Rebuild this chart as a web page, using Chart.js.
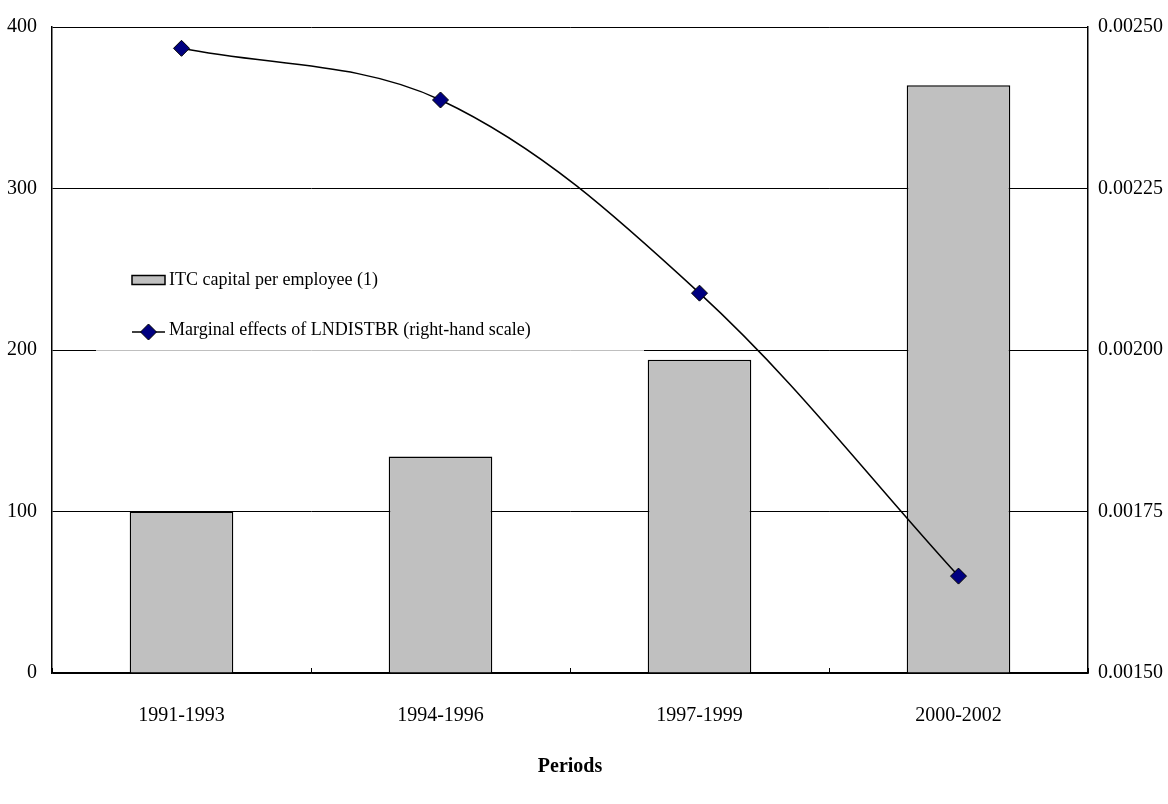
<!DOCTYPE html>
<html>
<head>
<meta charset="utf-8">
<script src="https://cdn.jsdelivr.net/npm/chart.js@4/dist/chart.umd.min.js"></script>
<style>
  html, body { margin: 0; padding: 0; background: #fff; }
  #wrap { width: 1168px; height: 804px; position: relative; }
</style>
</head>
<body>
<div id="wrap"><canvas id="c" width="1168" height="804"></canvas></div>
<script>
// Periods on the horizontal axis
const periods = ['1991-1993', '1994-1996', '1997-1999', '2000-2002'];
// ICT capital per employee, index (left scale)
const itcCapital = [100, 134, 194, 364];
// Marginal effects of LNDISTBR (right scale)
const marginalEffects = [0.002467, 0.002387, 0.002088, 0.00165];

const barLabel = 'ITC capital per employee (1)';
const lineLabel = 'Marginal effects of LNDISTBR (right-hand scale)';

const FONT = '"Liberation Serif", "Times New Roman", serif';

// Small inward tick marks between categories on the x axis
const categoryTicks = {
  id: 'categoryTicks',
  afterDraw(chart) {
    const { ctx, scales: { x }, chartArea } = chart;
    ctx.save();
    ctx.strokeStyle = '#000';
    ctx.lineWidth = 1;
    for (let i = 0; i <= periods.length; i++) {
      const px = Math.round(x.getPixelForValue(i - 0.5)) + 0.5;
      ctx.beginPath();
      ctx.moveTo(px, chartArea.bottom);
      ctx.lineTo(px, chartArea.bottom - 5);
      ctx.stroke();
    }
    ctx.restore();
  }
};

// Legend drawn inside the plot area
const innerLegend = {
  id: 'innerLegend',
  beforeDatasetsDraw(chart) {
    const { ctx } = chart;
    ctx.save();
    ctx.fillStyle = 'rgba(255,255,255,0.75)';
    ctx.fillRect(96, 256, 548, 96);
    ctx.restore();
  },
  afterDraw(chart) {
    const { ctx } = chart;
    const bar = chart.data.datasets[0];
    const line = chart.data.datasets[1];
    ctx.save();
    // bar swatch
    ctx.fillStyle = bar.backgroundColor;
    ctx.strokeStyle = '#000';
    ctx.lineWidth = 1.5;
    ctx.fillRect(132, 275.5, 33, 9);
    ctx.strokeRect(132, 275.5, 33, 9);
    // line swatch with its marker
    ctx.beginPath();
    ctx.lineWidth = 1.5;
    ctx.moveTo(132, 332);
    ctx.lineTo(165, 332);
    ctx.stroke();
    ctx.fillStyle = line.pointBackgroundColor;
    ctx.strokeStyle = '#000';
    ctx.lineWidth = 1;
    ctx.beginPath();
    ctx.moveTo(148.5, 324); ctx.lineTo(156.5, 332); ctx.lineTo(148.5, 340); ctx.lineTo(140.5, 332); ctx.closePath();
    ctx.fill(); ctx.stroke();
    // texts
    ctx.fillStyle = '#000';
    ctx.font = '18px ' + FONT;
    ctx.textBaseline = 'middle';
    ctx.textAlign = 'left';
    ctx.fillText(bar.label, 169, 280);
    ctx.fillText(line.label, 169, 330);
    ctx.restore();
  }
};

new Chart(document.getElementById('c'), {
  type: 'bar',
  data: {
    labels: periods,
    datasets: [
      {
        type: 'bar',
        label: barLabel,
        data: itcCapital,
        yAxisID: 'y',
        backgroundColor: '#c0c0c0',
        borderColor: '#000',
        borderWidth: 1.5,
        barPercentage: 0.4,
        categoryPercentage: 1.0,
        order: 2
      },
      {
        type: 'line',
        label: lineLabel,
        data: marginalEffects,
        yAxisID: 'y1',
        borderColor: '#000',
        borderWidth: 1.5,
        tension: 0.35,
        fill: false,
        pointStyle: 'rectRot',
        pointRadius: 8,
        pointBackgroundColor: '#000080',
        pointBorderColor: '#000',
        pointBorderWidth: 1,
        order: 1
      }
    ]
  },
  options: {
    responsive: false,
    animation: false,
    devicePixelRatio: 1,
    layout: { padding: { top: 27, right: 0, bottom: 0, left: 0 } },
    plugins: {
      legend: { display: false },
      tooltip: { enabled: false }
    },
    scales: {
      x: {
        offset: true,
        grid: { display: false, drawTicks: false },
        border: { display: true, color: '#000', width: 1.5 },
        ticks: { color: '#000', font: { family: FONT, size: 20 }, padding: 31, maxRotation: 0 },
        title: {
          display: true, text: 'Periods', color: '#000',
          font: { family: FONT, size: 20, weight: 'bold' },
          padding: { top: 0, bottom: 25 }
        },
        afterFit(scale) { scale.height = 131; }
      },
      y: {
        position: 'left',
        min: 0, max: 400,
        ticks: { stepSize: 100, color: '#000', font: { family: FONT, size: 20 }, padding: 15 },
        grid: { color: '#000', lineWidth: 1, drawTicks: false },
        border: { display: true, color: '#000', width: 1.5 },
        afterFit(scale) { scale.width = 52; }
      },
      y1: {
        position: 'right',
        min: 0.0015, max: 0.0025,
        ticks: {
          stepSize: 0.00025, color: '#000', font: { family: FONT, size: 20 }, padding: 10,
          callback: v => Number(v).toFixed(5)
        },
        grid: { drawOnChartArea: false, drawTicks: false },
        border: { display: true, color: '#000', width: 1.5 },
        afterFit(scale) { scale.width = 80; }
      }
    }
  },
  plugins: [categoryTicks, innerLegend]
});
</script>
</body>
</html>
